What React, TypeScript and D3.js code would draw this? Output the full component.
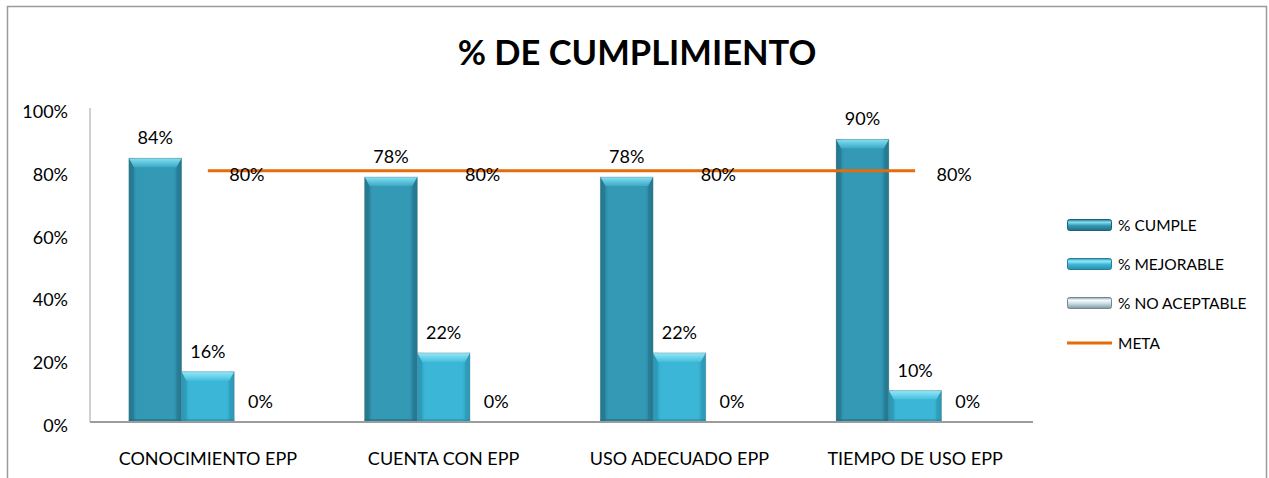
import React from "react";
import * as d3 from "d3";

const categories = ["CONOCIMIENTO EPP", "CUENTA CON EPP", "USO ADECUADO EPP", "TIEMPO DE USO EPP"];
const seriesNames = ["% CUMPLE", "% MEJORABLE", "% NO ACEPTABLE"];
const cumple = [0.84, 0.78, 0.78, 0.9];
const mejorable = [0.16, 0.22, 0.22, 0.1];
const noAceptable = [0, 0, 0, 0];
const meta = [0.8, 0.8, 0.8, 0.8];
const yTicks = [0, 0.2, 0.4, 0.6, 0.8, 1.0];
const metaName = "META";

const W = 1269;
const H = 478;
const FONT = "Lato, 'Liberation Sans', sans-serif";

const palettes = [
  { side: "#24778e", mid: "#3399b5", top1: "#86e0f2", top2: "#3aa9c5", bottom: "#226f84", edge: "#1f6275" },
  { side: "#2b98b6", mid: "#3cb6d6", top1: "#94e8f8", top2: "#44bedd", bottom: "#2a8ea9", edge: "#23809a" },
  { side: "#8aa3ad", mid: "#c9dde3", top1: "#f4fcfe", top2: "#d6e8ee", bottom: "#7f97a1", edge: "#72878f" },
];

export default function App() {
  const values = [cumple, mejorable, noAceptable];
  const x0 = d3.scaleBand<string>().domain(categories).range([90, 1033]).padding(0);
  const bw = x0.bandwidth();
  const groupW = bw * 0.67;
  const x1 = d3.scaleBand<string>().domain(seriesNames).range([0, groupW]).padding(0);
  const y = d3.scaleLinear().domain([0, 1]).range([422, 108]);
  const pct = d3.format(".0%");
  const groupStart = (c: string) => (x0(c) as number) + (bw - groupW) / 2;
  const cx = (c: string) => (x0(c) as number) + bw / 2;

  const metaLine = d3
    .line<number>()
    .x((_, i) => cx(categories[i]))
    .y((d) => y(d));

  const Bar = ({ x, yTop, w, h, p, id }: any) => {
    if (h <= 0.5) return null;
    const bev = Math.min(9, h / 2);
    const s = 5;
    return (
      <g>
        <rect x={x} y={yTop} width={w} height={h} fill={`url(#body${id})`} />
        <rect x={x} y={yTop} width={s} height={h} fill={p.side} opacity={0.7} />
        <rect x={x + w - s} y={yTop} width={s} height={h} fill={p.side} opacity={0.55} />
        <path
          d={`M${x},${yTop}L${x + w},${yTop}L${x + w - s},${yTop + bev}L${x + s},${yTop + bev}Z`}
          fill={`url(#top${id})`}
        />
        <rect x={x} y={yTop + h - 3} width={w} height={3} fill={p.bottom} opacity={0.6} />
        <rect x={x} y={yTop} width={w} height={h} fill="none" stroke="#5f7f88" strokeOpacity={0.35} strokeWidth={1} />
      </g>
    );
  };

  const legendY = [225, 264, 303, 343];

  return (
    <svg width={W} height={H} style={{ position: "absolute", left: 0, top: 0 }} fontFamily={FONT}>
      <defs>
        {palettes.map((p, i) => (
          <React.Fragment key={i}>
            <linearGradient id={`body${i}`} x1="0" x2="1" y1="0" y2="0">
              <stop offset="0" stopColor={p.side} />
              <stop offset="0.15" stopColor={p.mid} />
              <stop offset="0.85" stopColor={p.mid} />
              <stop offset="1" stopColor={p.side} />
            </linearGradient>
            <linearGradient id={`top${i}`} x1="0" x2="0" y1="0" y2="1">
              <stop offset="0" stopColor={p.top1} />
              <stop offset="1" stopColor={p.top2} />
            </linearGradient>
            <linearGradient id={`leg${i}`} x1="0" x2="0" y1="0" y2="1">
              <stop offset="0" stopColor={p.side} />
              <stop offset="0.25" stopColor={p.top1} />
              <stop offset="0.55" stopColor={p.mid} />
              <stop offset="1" stopColor={p.bottom} />
            </linearGradient>
          </React.Fragment>
        ))}
      </defs>
      <rect x={0} y={0} width={W} height={H} fill="#ffffff" />
      <path d={`M7.5,${H}L7.5,6.5L1266.5,6.5L1266.5,${H}`} fill="none" stroke="#9a9a9a" strokeWidth={1.5} />

      <text x={637} y={65} textAnchor="middle" fontSize={34.5} fontWeight={700} fill="#000">
        % DE CUMPLIMIENTO
      </text>

      {/* axes */}
      <line x1={90} x2={90} y1={108} y2={422} stroke="#b0b0b0" strokeWidth={1.2} />
      {yTicks.map((t) => (
        <text key={t} x={68} y={y(t) + 10} textAnchor="end" fontSize={18} fill="#000">
          {pct(t)}
        </text>
      ))}

      {/* bars */}
      {categories.map((c, ci) => (
        <g key={c}>
          {seriesNames.map((s, si) => {
            const v = values[si][ci];
            const bx = groupStart(c) + (x1(s) as number);
            const w = x1.bandwidth();
            return <Bar key={s} x={bx} yTop={y(v)} w={w} h={y(0) - y(v)} p={palettes[si]} id={si} />;
          })}
        </g>
      ))}

      <line x1={90} x2={1033} y1={422} y2={422} stroke="#9c9c9c" strokeWidth={2} />

      {/* bar labels */}
      {categories.map((c, ci) =>
        seriesNames.map((s, si) => {
          const v = values[si][ci];
          const bx = groupStart(c) + (x1(s) as number) + x1.bandwidth() / 2;
          return (
            <text key={c + s} x={bx} y={y(v) - 14} textAnchor="middle" fontSize={18} fill="#000">
              {pct(v)}
            </text>
          );
        })
      )}

      {/* meta line */}
      <path d={metaLine(meta) as string} fill="none" stroke="#e46c0a" strokeWidth={3} />
      {categories.map((c, ci) => (
        <text key={c} x={cx(c) + 39} y={y(meta[ci]) + 10} textAnchor="middle" fontSize={18} fill="#000">
          {pct(meta[ci])}
        </text>
      ))}

      {/* category labels */}
      {categories.map((c) => (
        <text key={c} x={cx(c)} y={465} textAnchor="middle" fontSize={18} fill="#000">
          {c}
        </text>
      ))}

      {/* legend */}
      {seriesNames.map((s, i) => (
        <g key={s}>
          <rect
            x={1067.5}
            y={legendY[i] - 5.5}
            width={44}
            height={11}
            rx={2}
            fill={`url(#leg${i})`}
            stroke={palettes[i].edge}
            strokeWidth={1}
          />
          <text x={1118} y={legendY[i] + 6} fontSize={15.5} fill="#000">
            {s}
          </text>
        </g>
      ))}
      <line x1={1067} x2={1112} y1={legendY[3]} y2={legendY[3]} stroke="#e46c0a" strokeWidth={3} />
      <text x={1118} y={legendY[3] + 6} fontSize={15.5} fill="#000">
        {metaName}
      </text>
    </svg>
  );
}
